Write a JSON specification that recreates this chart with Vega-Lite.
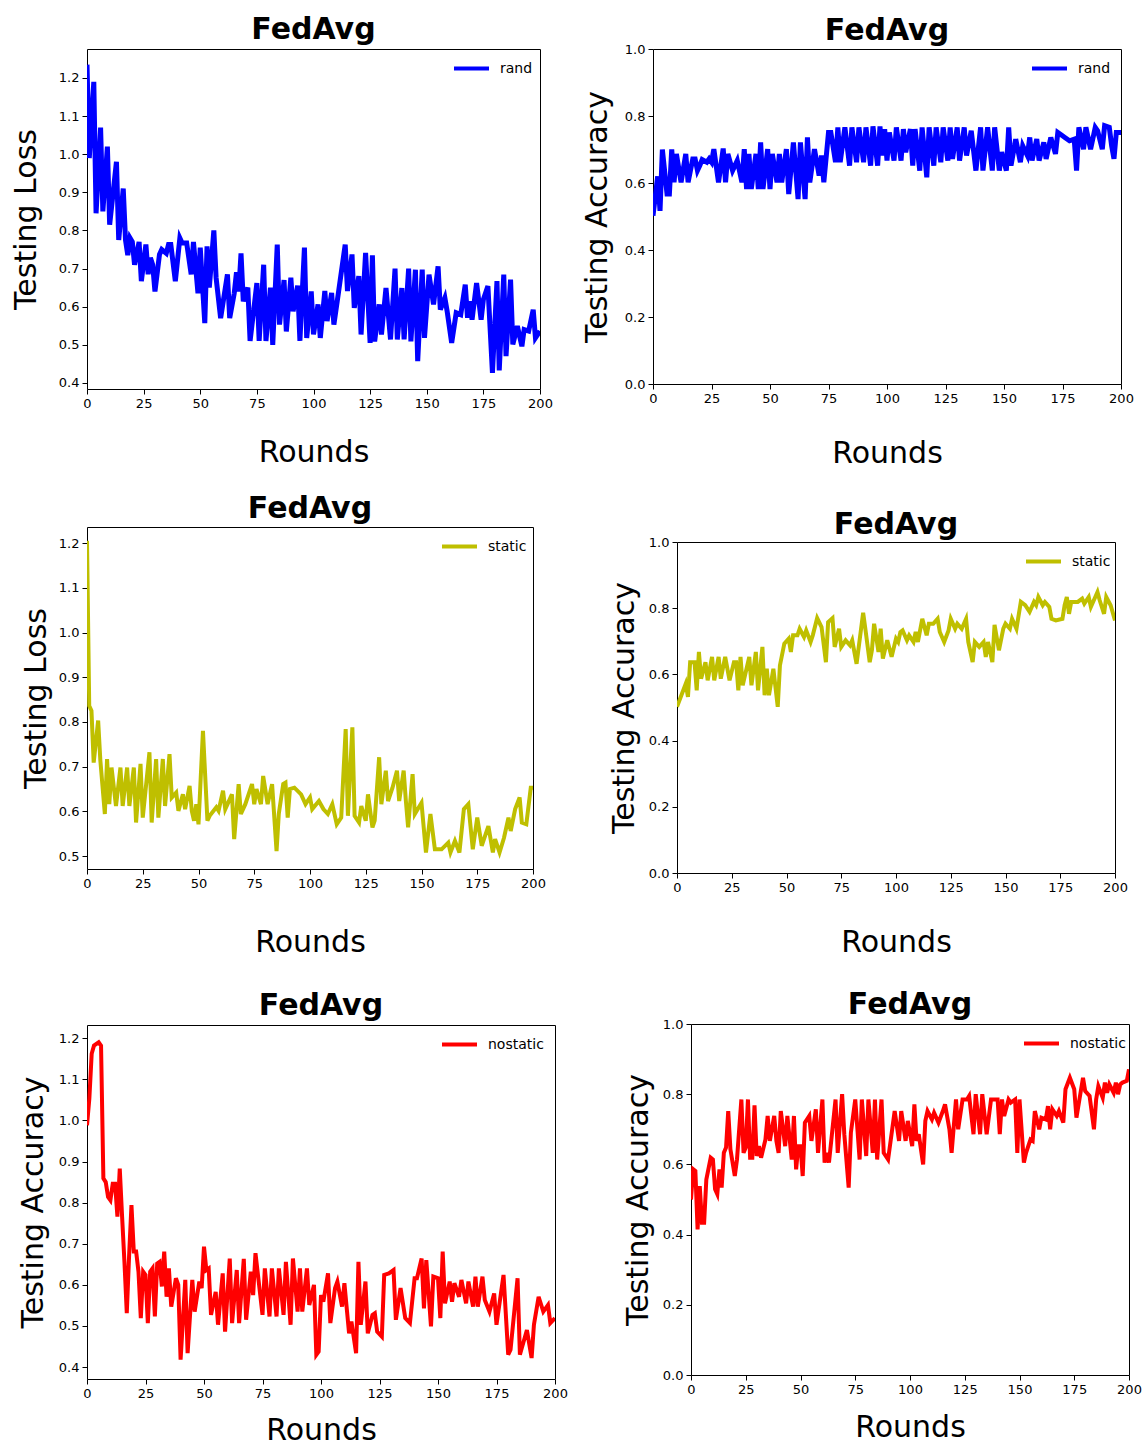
{
"$schema": "https://vega.github.io/schema/vega-lite/v6.json",
"background": "white",
"padding": {"left": 10, "top": 14, "right": 0, "bottom": 0},
"datasets": {
"tl": [{"r":0,"v":1.235},{"r":1,"v":0.99},{"r":3,"v":1.19},{"r":4,"v":0.845},{"r":6,"v":1.07},{"r":7,"v":0.85},{"r":9,"v":1.02},{"r":10,"v":0.815},{"r":13,"v":0.98},{"r":14,"v":0.775},{"r":16,"v":0.91},{"r":17,"v":0.775},{"r":18,"v":0.735},{"r":19,"v":0.78},{"r":20,"v":0.77},{"r":21,"v":0.71},{"r":23,"v":0.77},{"r":24,"v":0.667},{"r":26,"v":0.763},{"r":27,"v":0.685},{"r":28,"v":0.728},{"r":29,"v":0.71},{"r":30,"v":0.64},{"r":32,"v":0.737},{"r":33,"v":0.75},{"r":35,"v":0.74},{"r":36,"v":0.763},{"r":37,"v":0.763},{"r":39,"v":0.667},{"r":41,"v":0.78},{"r":42,"v":0.767},{"r":44,"v":0.767},{"r":46,"v":0.685},{"r":47,"v":0.77},{"r":49,"v":0.635},{"r":50,"v":0.755},{"r":52,"v":0.557},{"r":53,"v":0.758},{"r":54,"v":0.65},{"r":56,"v":0.8},{"r":57,"v":0.676},{"r":59,"v":0.57},{"r":62,"v":0.685},{"r":63,"v":0.57},{"r":65,"v":0.635},{"r":66,"v":0.69},{"r":67,"v":0.64},{"r":68,"v":0.74},{"r":69,"v":0.614},{"r":71,"v":0.65},{"r":72,"v":0.51},{"r":75,"v":0.662},{"r":76,"v":0.51},{"r":78,"v":0.71},{"r":79,"v":0.51},{"r":81,"v":0.65},{"r":82,"v":0.5},{"r":84,"v":0.763},{"r":85,"v":0.553},{"r":87,"v":0.67},{"r":88,"v":0.535},{"r":90,"v":0.676},{"r":91,"v":0.588},{"r":93,"v":0.655},{"r":94,"v":0.51},{"r":96,"v":0.755},{"r":97,"v":0.518},{"r":99,"v":0.64},{"r":100,"v":0.527},{"r":102,"v":0.606},{"r":103,"v":0.518},{"r":105,"v":0.641},{"r":106,"v":0.562},{"r":108,"v":0.636},{"r":109,"v":0.553},{"r":111,"v":0.636},{"r":114,"v":0.763},{"r":115,"v":0.641},{"r":117,"v":0.737},{"r":118,"v":0.597},{"r":120,"v":0.68},{"r":121,"v":0.527},{"r":123,"v":0.741},{"r":125,"v":0.505},{"r":126,"v":0.735},{"r":127,"v":0.509},{"r":129,"v":0.606},{"r":130,"v":0.527},{"r":132,"v":0.649},{"r":134,"v":0.514},{"r":136,"v":0.7},{"r":137,"v":0.514},{"r":139,"v":0.649},{"r":140,"v":0.514},{"r":142,"v":0.7},{"r":143,"v":0.509},{"r":145,"v":0.697},{"r":146,"v":0.457},{"r":148,"v":0.697},{"r":149,"v":0.518},{"r":151,"v":0.684},{"r":153,"v":0.606},{"r":155,"v":0.706},{"r":156,"v":0.592},{"r":158,"v":0.623},{"r":159,"v":0.588},{"r":161,"v":0.505},{"r":163,"v":0.584},{"r":165,"v":0.579},{"r":167,"v":0.658},{"r":168,"v":0.571},{"r":169,"v":0.614},{"r":170,"v":0.566},{"r":172,"v":0.662},{"r":174,"v":0.566},{"r":175,"v":0.619},{"r":177,"v":0.654},{"r":179,"v":0.426},{"r":181,"v":0.667},{"r":182,"v":0.433},{"r":184,"v":0.684},{"r":185,"v":0.47},{"r":187,"v":0.671},{"r":188,"v":0.501},{"r":190,"v":0.549},{"r":192,"v":0.496},{"r":193,"v":0.54},{"r":195,"v":0.536},{"r":197,"v":0.592},{"r":198,"v":0.518},{"r":200,"v":0.536}],
"tr": [{"r":0,"v":0.502},{"r":2,"v":0.62},{"r":3,"v":0.517},{"r":4,"v":0.7},{"r":6,"v":0.567},{"r":7,"v":0.567},{"r":8,"v":0.7},{"r":9,"v":0.602},{"r":10,"v":0.687},{"r":12,"v":0.602},{"r":14,"v":0.687},{"r":15,"v":0.602},{"r":17,"v":0.672},{"r":18,"v":0.672},{"r":19,"v":0.637},{"r":20,"v":0.652},{"r":21,"v":0.67},{"r":23,"v":0.662},{"r":24,"v":0.672},{"r":25,"v":0.662},{"r":26,"v":0.701},{"r":28,"v":0.602},{"r":30,"v":0.703},{"r":31,"v":0.602},{"r":32,"v":0.687},{"r":34,"v":0.637},{"r":35,"v":0.652},{"r":36,"v":0.667},{"r":38,"v":0.602},{"r":39,"v":0.701},{"r":40,"v":0.582},{"r":41,"v":0.687},{"r":42,"v":0.582},{"r":44,"v":0.687},{"r":45,"v":0.582},{"r":46,"v":0.721},{"r":47,"v":0.582},{"r":49,"v":0.701},{"r":50,"v":0.582},{"r":51,"v":0.687},{"r":53,"v":0.602},{"r":54,"v":0.687},{"r":55,"v":0.602},{"r":57,"v":0.701},{"r":58,"v":0.567},{"r":60,"v":0.721},{"r":62,"v":0.552},{"r":63,"v":0.721},{"r":65,"v":0.552},{"r":66,"v":0.736},{"r":67,"v":0.602},{"r":69,"v":0.701},{"r":71,"v":0.622},{"r":72,"v":0.682},{"r":73,"v":0.602},{"r":75,"v":0.751},{"r":76,"v":0.751},{"r":78,"v":0.662},{"r":79,"v":0.766},{"r":80,"v":0.662},{"r":82,"v":0.766},{"r":84,"v":0.652},{"r":85,"v":0.766},{"r":87,"v":0.662},{"r":88,"v":0.766},{"r":90,"v":0.662},{"r":91,"v":0.766},{"r":93,"v":0.652},{"r":94,"v":0.769},{"r":96,"v":0.652},{"r":97,"v":0.769},{"r":98,"v":0.682},{"r":99,"v":0.761},{"r":100,"v":0.667},{"r":101,"v":0.751},{"r":103,"v":0.667},{"r":104,"v":0.766},{"r":106,"v":0.667},{"r":107,"v":0.761},{"r":108,"v":0.692},{"r":110,"v":0.761},{"r":111,"v":0.652},{"r":112,"v":0.761},{"r":114,"v":0.637},{"r":115,"v":0.766},{"r":117,"v":0.617},{"r":118,"v":0.766},{"r":120,"v":0.652},{"r":121,"v":0.766},{"r":123,"v":0.662},{"r":124,"v":0.766},{"r":126,"v":0.667},{"r":127,"v":0.766},{"r":128,"v":0.672},{"r":130,"v":0.766},{"r":131,"v":0.667},{"r":133,"v":0.766},{"r":134,"v":0.682},{"r":136,"v":0.756},{"r":138,"v":0.637},{"r":140,"v":0.766},{"r":141,"v":0.637},{"r":143,"v":0.766},{"r":145,"v":0.637},{"r":146,"v":0.766},{"r":148,"v":0.637},{"r":149,"v":0.692},{"r":151,"v":0.637},{"r":152,"v":0.766},{"r":153,"v":0.652},{"r":155,"v":0.731},{"r":157,"v":0.662},{"r":158,"v":0.711},{"r":160,"v":0.682},{"r":161,"v":0.736},{"r":162,"v":0.667},{"r":164,"v":0.731},{"r":165,"v":0.667},{"r":167,"v":0.721},{"r":168,"v":0.672},{"r":170,"v":0.736},{"r":172,"v":0.687},{"r":173,"v":0.751},{"r":175,"v":0.741},{"r":176,"v":0.736},{"r":178,"v":0.726},{"r":180,"v":0.731},{"r":181,"v":0.637},{"r":182,"v":0.766},{"r":184,"v":0.701},{"r":185,"v":0.766},{"r":187,"v":0.701},{"r":189,"v":0.766},{"r":190,"v":0.756},{"r":192,"v":0.701},{"r":193,"v":0.771},{"r":195,"v":0.766},{"r":196,"v":0.711},{"r":197,"v":0.672},{"r":198,"v":0.751},{"r":200,"v":0.751}],
"ml": [{"r":0,"v":1.205},{"r":1,"v":0.836},{"r":2,"v":0.825},{"r":3,"v":0.709},{"r":5,"v":0.803},{"r":6,"v":0.713},{"r":8,"v":0.594},{"r":9,"v":0.717},{"r":10,"v":0.616},{"r":11,"v":0.698},{"r":13,"v":0.612},{"r":15,"v":0.698},{"r":16,"v":0.612},{"r":18,"v":0.698},{"r":19,"v":0.612},{"r":21,"v":0.698},{"r":22,"v":0.575},{"r":24,"v":0.706},{"r":25,"v":0.586},{"r":28,"v":0.732},{"r":29,"v":0.575},{"r":31,"v":0.717},{"r":32,"v":0.586},{"r":34,"v":0.717},{"r":35,"v":0.612},{"r":37,"v":0.728},{"r":38,"v":0.631},{"r":40,"v":0.642},{"r":41,"v":0.601},{"r":43,"v":0.638},{"r":44,"v":0.605},{"r":46,"v":0.657},{"r":47,"v":0.601},{"r":48,"v":0.579},{"r":49,"v":0.616},{"r":50,"v":0.571},{"r":52,"v":0.78},{"r":54,"v":0.579},{"r":55,"v":0.59},{"r":58,"v":0.609},{"r":59,"v":0.601},{"r":61,"v":0.646},{"r":62,"v":0.605},{"r":65,"v":0.638},{"r":66,"v":0.538},{"r":68,"v":0.661},{"r":69,"v":0.594},{"r":71,"v":0.616},{"r":74,"v":0.661},{"r":75,"v":0.616},{"r":76,"v":0.65},{"r":78,"v":0.616},{"r":79,"v":0.679},{"r":81,"v":0.616},{"r":83,"v":0.661},{"r":85,"v":0.511},{"r":86,"v":0.594},{"r":88,"v":0.661},{"r":89,"v":0.664},{"r":90,"v":0.586},{"r":91,"v":0.65},{"r":93,"v":0.653},{"r":96,"v":0.638},{"r":98,"v":0.616},{"r":100,"v":0.631},{"r":101,"v":0.605},{"r":104,"v":0.623},{"r":106,"v":0.605},{"r":108,"v":0.594},{"r":110,"v":0.616},{"r":112,"v":0.571},{"r":114,"v":0.586},{"r":116,"v":0.784},{"r":117,"v":0.59},{"r":119,"v":0.788},{"r":120,"v":0.59},{"r":122,"v":0.575},{"r":123,"v":0.612},{"r":125,"v":0.579},{"r":126,"v":0.638},{"r":128,"v":0.564},{"r":129,"v":0.579},{"r":131,"v":0.721},{"r":132,"v":0.616},{"r":134,"v":0.691},{"r":135,"v":0.623},{"r":137,"v":0.653},{"r":139,"v":0.691},{"r":140,"v":0.623},{"r":142,"v":0.691},{"r":143,"v":0.623},{"r":144,"v":0.564},{"r":146,"v":0.683},{"r":147,"v":0.594},{"r":150,"v":0.619},{"r":152,"v":0.508},{"r":154,"v":0.594},{"r":156,"v":0.515},{"r":159,"v":0.515},{"r":162,"v":0.53},{"r":163,"v":0.508},{"r":165,"v":0.534},{"r":167,"v":0.508},{"r":169,"v":0.605},{"r":171,"v":0.616},{"r":173,"v":0.515},{"r":175,"v":0.586},{"r":177,"v":0.523},{"r":180,"v":0.567},{"r":182,"v":0.508},{"r":183,"v":0.538},{"r":185,"v":0.508},{"r":187,"v":0.541},{"r":189,"v":0.586},{"r":190,"v":0.556},{"r":192,"v":0.605},{"r":194,"v":0.631},{"r":195,"v":0.575},{"r":197,"v":0.571},{"r":199,"v":0.653},{"r":200,"v":0.653}],
"mr": [{"r":0,"v":0.502},{"r":2,"v":0.537},{"r":4,"v":0.572},{"r":5,"v":0.532},{"r":6,"v":0.637},{"r":8,"v":0.637},{"r":9,"v":0.552},{"r":10,"v":0.668},{"r":11,"v":0.587},{"r":13,"v":0.637},{"r":14,"v":0.582},{"r":16,"v":0.653},{"r":17,"v":0.582},{"r":19,"v":0.653},{"r":20,"v":0.587},{"r":22,"v":0.653},{"r":24,"v":0.582},{"r":26,"v":0.637},{"r":27,"v":0.637},{"r":28,"v":0.552},{"r":29,"v":0.653},{"r":30,"v":0.567},{"r":33,"v":0.653},{"r":34,"v":0.567},{"r":36,"v":0.668},{"r":37,"v":0.552},{"r":39,"v":0.683},{"r":40,"v":0.537},{"r":41,"v":0.617},{"r":42,"v":0.537},{"r":44,"v":0.617},{"r":46,"v":0.502},{"r":47,"v":0.627},{"r":49,"v":0.693},{"r":51,"v":0.708},{"r":52,"v":0.668},{"r":53,"v":0.718},{"r":55,"v":0.718},{"r":56,"v":0.738},{"r":58,"v":0.713},{"r":59,"v":0.733},{"r":61,"v":0.698},{"r":62,"v":0.718},{"r":64,"v":0.77},{"r":66,"v":0.743},{"r":68,"v":0.637},{"r":69,"v":0.758},{"r":71,"v":0.77},{"r":72,"v":0.683},{"r":74,"v":0.738},{"r":75,"v":0.683},{"r":77,"v":0.703},{"r":79,"v":0.688},{"r":80,"v":0.703},{"r":82,"v":0.632},{"r":85,"v":0.786},{"r":86,"v":0.738},{"r":88,"v":0.637},{"r":89,"v":0.673},{"r":90,"v":0.753},{"r":92,"v":0.668},{"r":93,"v":0.738},{"r":94,"v":0.648},{"r":96,"v":0.703},{"r":98,"v":0.653},{"r":100,"v":0.708},{"r":101,"v":0.698},{"r":102,"v":0.728},{"r":103,"v":0.733},{"r":105,"v":0.703},{"r":106,"v":0.718},{"r":108,"v":0.698},{"r":109,"v":0.728},{"r":110,"v":0.698},{"r":112,"v":0.768},{"r":114,"v":0.718},{"r":115,"v":0.753},{"r":117,"v":0.753},{"r":119,"v":0.768},{"r":120,"v":0.728},{"r":122,"v":0.698},{"r":124,"v":0.733},{"r":125,"v":0.768},{"r":127,"v":0.738},{"r":128,"v":0.753},{"r":130,"v":0.738},{"r":132,"v":0.768},{"r":133,"v":0.698},{"r":135,"v":0.637},{"r":136,"v":0.698},{"r":138,"v":0.683},{"r":140,"v":0.698},{"r":141,"v":0.653},{"r":142,"v":0.698},{"r":144,"v":0.637},{"r":145,"v":0.75},{"r":147,"v":0.673},{"r":149,"v":0.738},{"r":150,"v":0.753},{"r":152,"v":0.738},{"r":153,"v":0.768},{"r":155,"v":0.738},{"r":157,"v":0.819},{"r":159,"v":0.809},{"r":161,"v":0.789},{"r":163,"v":0.819},{"r":164,"v":0.809},{"r":165,"v":0.834},{"r":167,"v":0.809},{"r":168,"v":0.819},{"r":170,"v":0.804},{"r":171,"v":0.768},{"r":173,"v":0.763},{"r":176,"v":0.768},{"r":177,"v":0.809},{"r":178,"v":0.834},{"r":179,"v":0.783},{"r":180,"v":0.819},{"r":183,"v":0.819},{"r":185,"v":0.829},{"r":186,"v":0.814},{"r":188,"v":0.834},{"r":189,"v":0.804},{"r":191,"v":0.834},{"r":192,"v":0.849},{"r":193,"v":0.824},{"r":195,"v":0.783},{"r":196,"v":0.834},{"r":198,"v":0.809},{"r":200,"v":0.763}],
"bl": [{"r":0,"v":0.988},{"r":1,"v":1.053},{"r":2,"v":1.162},{"r":3,"v":1.182},{"r":4,"v":1.186},{"r":5,"v":1.19},{"r":6,"v":1.182},{"r":7,"v":0.859},{"r":8,"v":0.85},{"r":9,"v":0.814},{"r":10,"v":0.806},{"r":11,"v":0.846},{"r":12,"v":0.846},{"r":13,"v":0.766},{"r":14,"v":0.883},{"r":15,"v":0.766},{"r":16,"v":0.656},{"r":17,"v":0.531},{"r":18,"v":0.672},{"r":19,"v":0.794},{"r":20,"v":0.681},{"r":21,"v":0.681},{"r":22,"v":0.632},{"r":23,"v":0.519},{"r":24,"v":0.632},{"r":25,"v":0.624},{"r":26,"v":0.507},{"r":27,"v":0.632},{"r":28,"v":0.64},{"r":29,"v":0.523},{"r":30,"v":0.652},{"r":31,"v":0.656},{"r":32,"v":0.596},{"r":33,"v":0.681},{"r":34,"v":0.571},{"r":35,"v":0.64},{"r":36,"v":0.547},{"r":38,"v":0.616},{"r":39,"v":0.6},{"r":40,"v":0.418},{"r":42,"v":0.612},{"r":43,"v":0.434},{"r":45,"v":0.612},{"r":46,"v":0.535},{"r":48,"v":0.608},{"r":49,"v":0.592},{"r":50,"v":0.693},{"r":51,"v":0.636},{"r":52,"v":0.64},{"r":53,"v":0.527},{"r":55,"v":0.583},{"r":56,"v":0.503},{"r":58,"v":0.628},{"r":59,"v":0.486},{"r":61,"v":0.664},{"r":62,"v":0.507},{"r":64,"v":0.636},{"r":65,"v":0.507},{"r":67,"v":0.663},{"r":68,"v":0.515},{"r":70,"v":0.632},{"r":71,"v":0.575},{"r":72,"v":0.677},{"r":75,"v":0.527},{"r":76,"v":0.64},{"r":78,"v":0.523},{"r":79,"v":0.64},{"r":81,"v":0.523},{"r":82,"v":0.64},{"r":84,"v":0.527},{"r":85,"v":0.656},{"r":87,"v":0.503},{"r":88,"v":0.664},{"r":90,"v":0.535},{"r":91,"v":0.64},{"r":92,"v":0.535},{"r":94,"v":0.64},{"r":95,"v":0.551},{"r":97,"v":0.6},{"r":98,"v":0.43},{"r":99,"v":0.438},{"r":100,"v":0.575},{"r":101,"v":0.559},{"r":103,"v":0.628},{"r":104,"v":0.507},{"r":106,"v":0.592},{"r":107,"v":0.608},{"r":109,"v":0.547},{"r":110,"v":0.604},{"r":112,"v":0.482},{"r":113,"v":0.511},{"r":115,"v":0.434},{"r":116,"v":0.656},{"r":117,"v":0.503},{"r":119,"v":0.608},{"r":120,"v":0.482},{"r":122,"v":0.527},{"r":123,"v":0.531},{"r":124,"v":0.486},{"r":126,"v":0.474},{"r":127,"v":0.624},{"r":129,"v":0.628},{"r":131,"v":0.636},{"r":132,"v":0.515},{"r":134,"v":0.592},{"r":136,"v":0.519},{"r":138,"v":0.507},{"r":140,"v":0.616},{"r":141,"v":0.616},{"r":143,"v":0.664},{"r":144,"v":0.543},{"r":145,"v":0.66},{"r":147,"v":0.499},{"r":148,"v":0.62},{"r":150,"v":0.616},{"r":151,"v":0.519},{"r":152,"v":0.681},{"r":153,"v":0.555},{"r":155,"v":0.608},{"r":156,"v":0.559},{"r":157,"v":0.604},{"r":159,"v":0.571},{"r":160,"v":0.612},{"r":162,"v":0.555},{"r":163,"v":0.608},{"r":165,"v":0.547},{"r":166,"v":0.62},{"r":167,"v":0.547},{"r":169,"v":0.62},{"r":170,"v":0.563},{"r":172,"v":0.535},{"r":174,"v":0.579},{"r":175,"v":0.503},{"r":178,"v":0.624},{"r":180,"v":0.43},{"r":181,"v":0.442},{"r":184,"v":0.616},{"r":185,"v":0.43},{"r":188,"v":0.49},{"r":190,"v":0.422},{"r":191,"v":0.503},{"r":193,"v":0.571},{"r":195,"v":0.535},{"r":197,"v":0.551},{"r":198,"v":0.507},{"r":200,"v":0.519}],
"br": [{"r":0,"v":0.5},{"r":1,"v":0.586},{"r":2,"v":0.581},{"r":3,"v":0.415},{"r":4,"v":0.538},{"r":5,"v":0.434},{"r":6,"v":0.434},{"r":7,"v":0.557},{"r":9,"v":0.619},{"r":10,"v":0.614},{"r":11,"v":0.529},{"r":12,"v":0.515},{"r":13,"v":0.586},{"r":14,"v":0.534},{"r":15,"v":0.633},{"r":16,"v":0.648},{"r":17,"v":0.752},{"r":18,"v":0.643},{"r":20,"v":0.567},{"r":21,"v":0.614},{"r":23,"v":0.785},{"r":24,"v":0.633},{"r":25,"v":0.648},{"r":26,"v":0.785},{"r":27,"v":0.619},{"r":28,"v":0.619},{"r":29,"v":0.768},{"r":30,"v":0.624},{"r":31,"v":0.652},{"r":32,"v":0.619},{"r":34,"v":0.671},{"r":35,"v":0.738},{"r":36,"v":0.667},{"r":38,"v":0.738},{"r":39,"v":0.667},{"r":40,"v":0.633},{"r":41,"v":0.752},{"r":43,"v":0.652},{"r":44,"v":0.738},{"r":46,"v":0.614},{"r":47,"v":0.738},{"r":48,"v":0.586},{"r":49,"v":0.652},{"r":50,"v":0.652},{"r":51,"v":0.567},{"r":52,"v":0.719},{"r":54,"v":0.738},{"r":55,"v":0.667},{"r":57,"v":0.757},{"r":58,"v":0.633},{"r":60,"v":0.785},{"r":61,"v":0.605},{"r":62,"v":0.633},{"r":63,"v":0.605},{"r":66,"v":0.785},{"r":67,"v":0.633},{"r":69,"v":0.8},{"r":70,"v":0.686},{"r":72,"v":0.534},{"r":73,"v":0.69},{"r":75,"v":0.785},{"r":77,"v":0.614},{"r":78,"v":0.785},{"r":80,"v":0.624},{"r":81,"v":0.785},{"r":83,"v":0.633},{"r":84,"v":0.785},{"r":85,"v":0.614},{"r":87,"v":0.785},{"r":88,"v":0.633},{"r":90,"v":0.614},{"r":93,"v":0.752},{"r":95,"v":0.667},{"r":96,"v":0.752},{"r":98,"v":0.667},{"r":99,"v":0.724},{"r":101,"v":0.652},{"r":102,"v":0.771},{"r":103,"v":0.667},{"r":104,"v":0.686},{"r":106,"v":0.6},{"r":107,"v":0.724},{"r":108,"v":0.752},{"r":110,"v":0.728},{"r":111,"v":0.747},{"r":113,"v":0.719},{"r":115,"v":0.752},{"r":116,"v":0.771},{"r":118,"v":0.7},{"r":119,"v":0.633},{"r":121,"v":0.785},{"r":122,"v":0.7},{"r":124,"v":0.785},{"r":126,"v":0.785},{"r":127,"v":0.795},{"r":129,"v":0.686},{"r":130,"v":0.8},{"r":132,"v":0.686},{"r":133,"v":0.8},{"r":135,"v":0.686},{"r":137,"v":0.785},{"r":138,"v":0.785},{"r":140,"v":0.785},{"r":141,"v":0.686},{"r":142,"v":0.785},{"r":143,"v":0.738},{"r":145,"v":0.785},{"r":146,"v":0.776},{"r":148,"v":0.785},{"r":149,"v":0.633},{"r":150,"v":0.785},{"r":152,"v":0.605},{"r":153,"v":0.633},{"r":155,"v":0.671},{"r":156,"v":0.667},{"r":157,"v":0.752},{"r":159,"v":0.7},{"r":160,"v":0.733},{"r":162,"v":0.728},{"r":163,"v":0.766},{"r":164,"v":0.7},{"r":165,"v":0.757},{"r":167,"v":0.738},{"r":168,"v":0.752},{"r":170,"v":0.719},{"r":171,"v":0.814},{"r":173,"v":0.847},{"r":175,"v":0.814},{"r":176,"v":0.733},{"r":178,"v":0.809},{"r":179,"v":0.847},{"r":180,"v":0.809},{"r":182,"v":0.795},{"r":184,"v":0.7},{"r":185,"v":0.785},{"r":186,"v":0.823},{"r":188,"v":0.79},{"r":189,"v":0.833},{"r":190,"v":0.804},{"r":191,"v":0.828},{"r":193,"v":0.804},{"r":194,"v":0.833},{"r":195,"v":0.8},{"r":196,"v":0.828},{"r":197,"v":0.833},{"r":199,"v":0.838},{"r":200,"v":0.871}]
},
"concat": [
{"width": 453, "height": 340, "data": {"name": "tl"}, "title": {"text": "FedAvg", "offset": 4},
 "mark": {"type": "line", "strokeWidth": 5, "clip": true},
 "encoding": {
  "x": {"field": "r", "type": "quantitative", "scale": {"domain": [0, 200], "nice": false}, "axis": {"values": [0,25,50,75,100,125,150,175,200], "title": "Rounds", "titlePadding": 27}},
  "y": {"field": "v", "type": "quantitative", "scale": {"domain": [0.384, 1.276], "nice": false, "zero": false}, "axis": {"values": [0.4,0.5,0.6,0.7,0.8,0.9,1.0,1.1,1.2], "format": ".1f", "title": "Testing Loss", "titlePadding": 17}},
  "color": {"datum": "rand", "type": "nominal", "scale": {"range": ["#0000ff"]}, "legend": {"legendX": 365, "legendY": 0}}}},
{"width": 468, "height": 335, "data": {"name": "tr"}, "title": {"text": "FedAvg", "offset": -3},
 "mark": {"type": "line", "strokeWidth": 5, "clip": true},
 "encoding": {
  "x": {"field": "r", "type": "quantitative", "scale": {"domain": [0, 200], "nice": false}, "axis": {"values": [0,25,50,75,100,125,150,175,200], "title": "Rounds", "titlePadding": 33}},
  "y": {"field": "v", "type": "quantitative", "scale": {"domain": [0, 1], "nice": false}, "axis": {"values": [0,0.2,0.4,0.6,0.8,1.0], "format": ".1f", "title": "Testing Accuracy", "titlePadding": 12}},
  "color": {"datum": "rand", "type": "nominal", "scale": {"range": ["#0000ff"]}, "legend": {"legendX": 377, "legendY": 0}}}},
{"width": 446, "height": 342, "data": {"name": "ml"}, "title": {"text": ["", "FedAvg"], "offset": 3, "lineHeight": 8},
 "mark": {"type": "line", "strokeWidth": 4, "clip": true},
 "encoding": {
  "x": {"field": "r", "type": "quantitative", "scale": {"domain": [0, 200], "nice": false}, "axis": {"values": [0,25,50,75,100,125,150,175,200], "title": "Rounds", "titlePadding": 37}},
  "y": {"field": "v", "type": "quantitative", "scale": {"domain": [0.471, 1.236], "nice": false, "zero": false}, "axis": {"values": [0.5,0.6,0.7,0.8,0.9,1.0,1.1,1.2], "format": ".1f", "title": "Testing Loss", "titlePadding": 7}},
  "color": {"datum": "static", "type": "nominal", "scale": {"range": ["#bfbf00"]}, "legend": {"legendX": 353, "legendY": 0}}}},
{"width": 438, "height": 331, "data": {"name": "mr"}, "title": {"text": ["", "FedAvg"], "offset": -4, "lineHeight": 24},
 "mark": {"type": "line", "strokeWidth": 4, "clip": true},
 "encoding": {
  "x": {"field": "r", "type": "quantitative", "scale": {"domain": [0, 200], "nice": false}, "axis": {"values": [0,25,50,75,100,125,150,175,200], "title": "Rounds", "titlePadding": 33}},
  "y": {"field": "v", "type": "quantitative", "scale": {"domain": [0, 1], "nice": false}, "axis": {"values": [0,0.2,0.4,0.6,0.8,1.0], "format": ".1f", "title": ["", "Testing Accuracy"], "titleLineHeight": 27, "titlePadding": 9}},
  "color": {"datum": "static", "type": "nominal", "scale": {"range": ["#bfbf00"]}, "legend": {"legendX": 347, "legendY": 0}}}},
{"width": 468, "height": 354, "data": {"name": "bl"}, "title": {"text": ["", "FedAvg"], "offset": 4, "lineHeight": 16},
 "mark": {"type": "line", "strokeWidth": 4, "clip": true},
 "encoding": {
  "x": {"field": "r", "type": "quantitative", "scale": {"domain": [0, 200], "nice": false}, "axis": {"values": [0,25,50,75,100,125,150,175,200], "title": "Rounds", "titlePadding": 15}},
  "y": {"field": "v", "type": "quantitative", "scale": {"domain": [0.371, 1.232], "nice": false, "zero": false}, "axis": {"values": [0.4,0.5,0.6,0.7,0.8,0.9,1.0,1.1,1.2], "format": ".1f", "title": "Testing Accuracy", "titlePadding": 10}},
  "color": {"datum": "nostatic", "type": "nominal", "scale": {"range": ["#ff0000"]}, "legend": {"legendX": 353, "legendY": 0}}}},
{"width": 438, "height": 351, "data": {"name": "br"}, "title": {"text": "FedAvg", "offset": -2},
 "mark": {"type": "line", "strokeWidth": 4, "clip": true},
 "encoding": {
  "x": {"field": "r", "type": "quantitative", "scale": {"domain": [0, 200], "nice": false}, "axis": {"values": [0,25,50,75,100,125,150,175,200], "title": "Rounds", "titlePadding": 16}},
  "y": {"field": "v", "type": "quantitative", "scale": {"domain": [0, 1], "nice": false}, "axis": {"values": [0,0.2,0.4,0.6,0.8,1.0], "format": ".1f", "title": ["", "Testing Accuracy"], "titleLineHeight": 41, "titlePadding": 9}},
  "color": {"datum": "nostatic", "type": "nominal", "scale": {"range": ["#ff0000"]}, "legend": {"legendX": 331, "legendY": 0}}}}
],
"columns": 2,
"align": "none",
"spacing": {"row": 16, "column": 13},
"resolve": {"scale": {"color": "independent"}, "legend": {"color": "independent"}},
"config": {
 "font": "DejaVu Sans",
 "view": {"stroke": "black", "strokeWidth": 1},
 "title": {"fontSize": 30, "fontWeight": "bold", "color": "black", "frame": "group", "anchor": "middle"},
 "axis": {"domain": false, "grid": false, "ticks": true, "tickColor": "black", "tickSize": 5, "tickWidth": 1, "labelColor": "black", "labelFontSize": 13, "labelPadding": 3, "labelFlush": false, "labelOverlap": false, "titleFontSize": 30, "titleFontWeight": "normal", "titleColor": "black"},
 "legend": {"orient": "none", "title": null, "symbolType": "stroke", "symbolSize": 1225, "symbolStrokeWidth": 4, "labelFontSize": 14, "labelColor": "black", "labelOffset": 9, "padding": 0}
}
}
